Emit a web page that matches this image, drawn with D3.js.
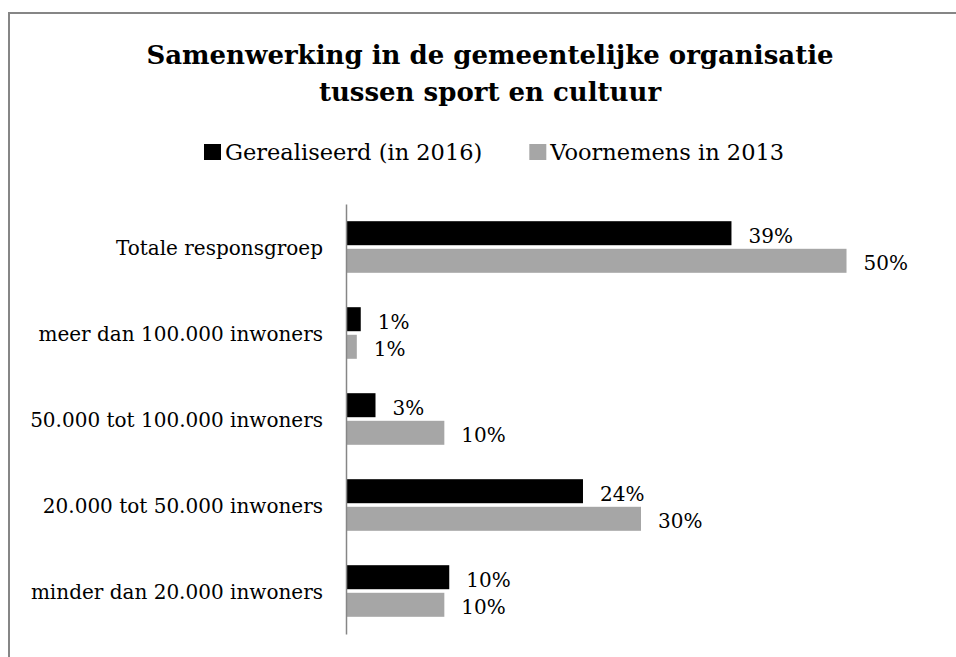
<!DOCTYPE html>
<html>
<head>
<meta charset="utf-8">
<script src="https://cdn.jsdelivr.net/npm/d3@7"></script>
<style>
	body { margin: 0; background: #fff; }
	svg { display: block; font-family: "DejaVu Serif", serif; }
	.cat-axis text { font-family: "DejaVu Serif", serif; font-size: 20px; fill: #000; }
	.cat-axis path { stroke: #868686; stroke-width: 1.5px; }
	.bar-label { font-size: 20px; fill: #000; }
	.legend-label { font-size: 22.5px; fill: #000; }
	.chart-title { font-size: 26px; font-weight: bold; fill: #000; }
</style>
</head>
<body>
<div id="chart"></div>
<script>

/* chart data, top to bottom as in the picture */
var categories = ["Totale responsgroep", "meer dan 100.000 inwoners", "50.000 tot 100.000 inwoners", "20.000 tot 50.000 inwoners", "minder dan 20.000 inwoners"]

var series_names = ["Gerealiseerd (in 2016)", "Voornemens in 2013"]

var realised = [39.2, 1.5, 3, 24.1, 10.5]
var planned = [50.9, 1.1, 10, 30, 10]

var realised_labels = ["39%", "1%", "3%", "24%", "10%"]
var planned_labels = ["50%", "1%", "10%", "30%", "10%"]

var series_colors = ["#000000", "#a6a6a6"]

var title_lines = ["Samenwerking in de gemeentelijke organisatie", "tussen sport en cultuur"]

var width = 956
var height = 657

var svg = d3.select("#chart")
	.append("svg")
	.attr("width", width)
	.attr("height", height)

/* outer frame, runs off the right and bottom edges */
svg.append("rect")
	.attr("x", 9)
	.attr("y", 13)
	.attr("width", 1000)
	.attr("height", 700)
	.attr("fill", "none")
	.attr("stroke", "#868686")
	.attr("stroke-width", 2)

svg.selectAll(".chart-title")
	.data(title_lines)
	.enter()
	.append("text")
	.attr("class", "chart-title")
	.attr("x", 490)
	.attr("y", function(d, i){ return 64 + i * 37; })
	.attr("text-anchor", "middle")
	.text(function(d){ return d; })

/* legend */
var legend = svg.append("g")
	.attr("transform", "translate(204,160)")

var legend_x = 0
for (var i = 0; i < series_names.length; i++){
	legend.append("rect")
		.attr("x", legend_x)
		.attr("y", -16)
		.attr("width", 17)
		.attr("height", 16)
		.attr("fill", series_colors[i])

	var lbl = legend.append("text")
		.attr("class", "legend-label")
		.attr("x", legend_x + 21)
		.attr("y", 0)
		.text(series_names[i])

	legend_x = legend_x + 21 + lbl.node().getComputedTextLength() + 47
}

/* scales */
var y0 = d3.scaleBand()
	.domain(categories)
	.range([204, 634])
	.paddingInner(0.4)
	.paddingOuter(0.2)

var y1 = d3.scaleBand()
	.domain(series_names)
	.range([0, y0.bandwidth()])
	.paddingInner(0.13)

var x = d3.scaleLinear()
	.domain([0, 60])
	.range([346, 936])

var rows = categories.map(function(c, i){
	return {
		category: c,
		values: [
			{series: series_names[0], value: realised[i], label: realised_labels[i], color: series_colors[0]},
			{series: series_names[1], value: planned[i], label: planned_labels[i], color: series_colors[1]}
		]
	}
})

var groups = svg.selectAll(".bar-group")
	.data(rows)
	.enter()
	.append("g")
	.attr("class", "bar-group")
	.attr("transform", function(d){ return "translate(0," + y0(d.category) + ")"; })

groups.selectAll("rect")
	.data(function(d){ return d.values; })
	.enter()
	.append("rect")
	.attr("x", x(0))
	.attr("y", function(d){ return y1(d.series); })
	.attr("width", function(d){ return x(d.value) - x(0); })
	.attr("height", y1.bandwidth())
	.attr("fill", function(d){ return d.color; })

groups.selectAll(".bar-label")
	.data(function(d){ return d.values; })
	.enter()
	.append("text")
	.attr("class", "bar-label")
	.attr("x", function(d){ return x(d.value) + 17; })
	.attr("y", function(d){ return y1(d.series) + y1.bandwidth() / 2 + 9.5; })
	.text(function(d){ return d.label; })

/* category axis on top of the bars */
svg.append("g")
	.attr("class", "cat-axis")
	.attr("transform", "translate(" + x(0) + ",0)")
	.call(d3.axisLeft(y0).tickSize(0).tickPadding(23))
	.call(function(g){
		g.attr("font-family", null).attr("font-size", null)
		g.selectAll(".tick text").attr("dy", "0.4em")
	})

</script>
</body>
</html>
